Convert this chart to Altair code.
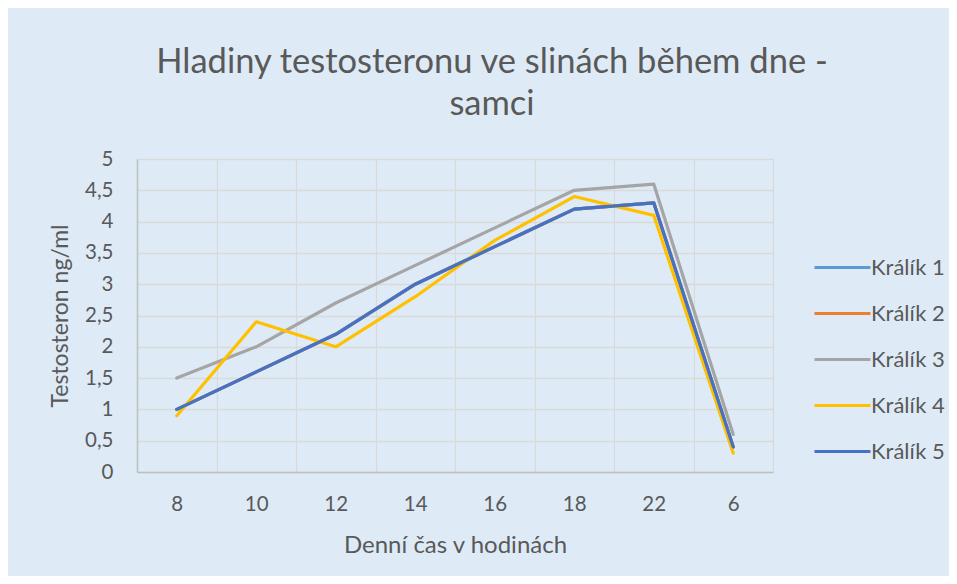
import altair as alt
import pandas as pd

hours = ["8", "10", "12", "14", "16", "18", "22", "6"]
kralik1 = [1.0, 1.6, 2.2, 3.0, 3.6, 4.2, 4.3, 0.4]
kralik2 = [1.0, 1.6, 2.2, 3.0, 3.6, 4.2, 4.3, 0.4]
kralik3 = [1.5, 2.0, 2.7, 3.3, 3.9, 4.5, 4.6, 0.6]
kralik4 = [0.9, 2.4, 2.0, 2.8, 3.7, 4.4, 4.1, 0.3]
kralik5 = [1.0, 1.6, 2.2, 3.0, 3.6, 4.2, 4.3, 0.4]
series_names = ["Králík 1", "Králík 2", "Králík 3", "Králík 4", "Králík 5"]
series_colors = ["#5B9BD5", "#ED7D31", "#A5A5A5", "#FFC000", "#4472C4"]
y_ticks = [0, 0.5, 1, 1.5, 2, 2.5, 3, 3.5, 4, 4.5, 5]

rows = []
for name, vals in zip(series_names, [kralik1, kralik2, kralik3, kralik4, kralik5]):
    for h, v in zip(hours, vals):
        rows.append({"hour": h, "value": v, "series": name})
df = pd.DataFrame(rows)

FONT = "Lato"
TXT = "#595959"

chart = alt.Chart(df).mark_line(
    strokeWidth=3.2, strokeCap="round", strokeJoin="round"
).encode(
    x=alt.X(
        "hour:N",
        sort=hours,
        scale=alt.Scale(type="band", paddingInner=0, paddingOuter=0),
        axis=alt.Axis(
            title="Denní čas v hodinách",
            labelAngle=0,
            tickBand="extent",
            ticks=False,
            grid=True,
            labelPadding=22,
            titleY=80,
            titleBaseline="alphabetic",
            titleFontSize=24,
        ),
    ),
    y=alt.Y(
        "value:Q",
        scale=alt.Scale(domain=[0, 5]),
        axis=alt.Axis(
            values=y_ticks,
            labelExpr="replace(format(datum.value, '.1~f'), '.', ',')",
            title="Testosteron ng/ml",
            ticks=False,
            grid=True,
            labelPadding=24,
            titleX=-77,
            titleBaseline="middle",
            titleFontSize=23,
        ),
    ),
    color=alt.Color(
        "series:N",
        scale=alt.Scale(domain=series_names, range=series_colors),
        legend=alt.Legend(
            title=None,
            orient="none",
            legendX=684,
            legendY=87,
            symbolType="M-1.4,0H1.4",
            symbolSize=1600,
            symbolStrokeWidth=3,
            labelFontSize=22,
            labelFont=FONT,
            labelColor=TXT,
            labelOffset=7,
            rowPadding=13,
            padding=0,
        ),
    ),
).properties(
    width=636,
    height=313,
    padding={"left": 129, "top": 151, "right": 176, "bottom": 104},
    autosize=alt.AutoSizeParams(type="none"),
    background="#DEEBF7",
    title=alt.TitleParams(
        ["Hladiny testosteronu ve slinách během dne -", "samci"],
        font=FONT,
        fontSize=34.5,
        fontWeight="normal",
        color=TXT,
        anchor="middle",
        dx=37,
        lineHeight=42,
        offset=27,
    ),
).configure_view(stroke=None).configure_axis(
    labelFont=FONT,
    titleFont=FONT,
    labelFontSize=20.5,
    titleFontWeight="normal",
    labelColor=TXT,
    titleColor=TXT,
    gridColor="#D9D9D9",
    gridWidth=1.3,
    domainColor="#BFBFBF",
    domainWidth=1.5,
)

chart.save("out.html", embed_options={"renderer": "svg", "actions": False})
